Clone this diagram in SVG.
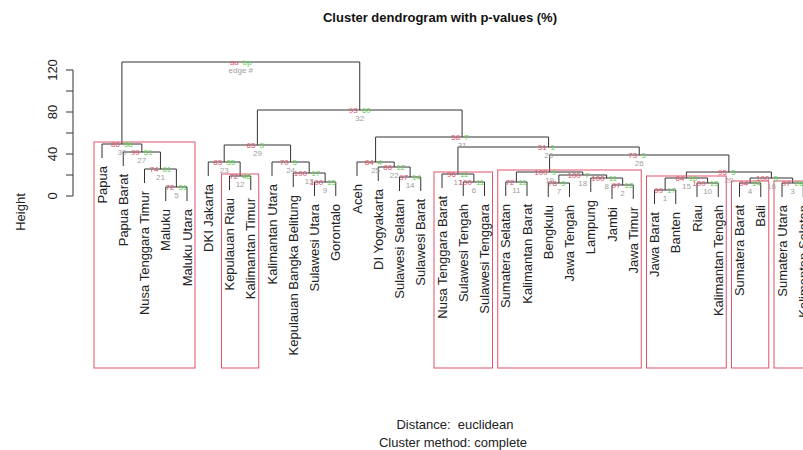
<svg xmlns="http://www.w3.org/2000/svg" width="803" height="450" viewBox="0 0 803 450">
<style>
text{font-family:"Liberation Sans",Arial,sans-serif}
.lab{font-size:13px;fill:#222;text-anchor:end}
.au{font-size:8px;fill:#DF536B;text-anchor:end}
.bp{font-size:8px;fill:#61D04F}
.ed{font-size:8px;fill:#9E9E9E;text-anchor:middle}
.ax{font-size:13px;fill:#222;text-anchor:middle}
.tree path{fill:none;stroke:#333;stroke-width:1}
.box{fill:none;stroke:#DF536B;stroke-width:1}
.pre{white-space:pre}
</style>
<rect width="803" height="450" fill="#fff"/>
<text x="440" y="22" font-size="13" font-weight="bold" text-anchor="middle" fill="#111">Cluster dendrogram with p-values (%)</text>
<g id="axis">
<path d="M73 196V70M73 196h-7M73 175h-7M73 154h-7M73 133h-7M73 112h-7M73 91h-7M73 70h-7" stroke="#333" fill="none"/>
<text class="ax" transform="translate(57,196) rotate(-90)">0</text>
<text class="ax" transform="translate(57,154) rotate(-90)">40</text>
<text class="ax" transform="translate(57,112) rotate(-90)">80</text>
<text class="ax" transform="translate(57,70) rotate(-90)">120</text>
<text class="ax" transform="translate(25,212) rotate(-90)">Height</text>
</g>
<g id="connectors" class="tree">
<path d="M102 158V144H141.84V152"/>
<path d="M123.25 166V152H160.44V169"/>
<path d="M144.5 183V169H176.38V187"/>
<path d="M165.75 201V187H187V201"/>
<path d="M208.25 176V162H240.13V176"/>
<path d="M229.5 190V176H250.75V190"/>
<path d="M272 176V162H309.19V173"/>
<path d="M293.25 187V173H325.13V182"/>
<path d="M314.5 196V182H335.75V196"/>
<path d="M224.19 162V145H290.59V162"/>
<path d="M357 176V162H394.19V167"/>
<path d="M378.25 181V167H410.13V177"/>
<path d="M399.5 191V177H420.75V191"/>
<path d="M442 188V174H473.88V182"/>
<path d="M463.25 196V182H484.5V196"/>
<path d="M505.75 196V182H527V196"/>
<path d="M548.25 197V183H569.5V197"/>
<path d="M612 199V185H633.25V199"/>
<path d="M590.75 192V178H622.63V185"/>
<path d="M558.88 183V175H606.69V178"/>
<path d="M516.38 182V172H582.78V175"/>
<path d="M654.5 204V190H675.75V204"/>
<path d="M697 197V183H718.25V197"/>
<path d="M665.13 190V178H707.63V183"/>
<path d="M739.5 197V183H760.75V197"/>
<path d="M782 197V183H803.25V197"/>
<path d="M750.13 183V178H792.63V183"/>
<path d="M686.38 178V172H771.38V178"/>
<path d="M549.58 172V155H728.88V172"/>
<path d="M457.94 174V147H639.23V155"/>
<path d="M375.59 162V137H548.58V147"/>
<path d="M257.39 145V110H462.09V137"/>
<path d="M121.92 144V62H359.74V110"/>
</g>
<g id="clusters">
<rect class="box" x="94" y="142" width="101" height="226"/>
<rect class="box" x="221.5" y="174" width="37.25" height="194"/>
<rect class="box" x="434" y="172" width="58.5" height="196"/>
<rect class="box" x="497.75" y="170" width="143.5" height="198"/>
<rect class="box" x="646.5" y="176" width="79.75" height="192"/>
<rect class="box" x="731.5" y="181" width="37.25" height="187"/>
<rect class="box" x="774" y="181" width="40" height="187"/>
</g>
<g id="leaves">
<g id="leaf-papua"><text class="lab" transform="translate(106.5,166) rotate(-90)">Papua</text></g>
<g id="leaf-papua-barat"><text class="lab" transform="translate(127.75,174) rotate(-90)">Papua Barat</text></g>
<g id="leaf-ntt"><text class="lab" transform="translate(149,191) rotate(-90)">Nusa Tenggara Timur</text></g>
<g id="leaf-maluku"><text class="lab" transform="translate(170.25,209) rotate(-90)">Maluku</text></g>
<g id="leaf-maluku-utara"><text class="lab" transform="translate(191.5,209) rotate(-90)">Maluku Utara</text></g>
<g id="leaf-dki"><text class="lab" transform="translate(212.75,184) rotate(-90)">DKI Jakarta</text></g>
<g id="leaf-kepri"><text class="lab" transform="translate(234,198) rotate(-90)">Kepulauan Riau</text></g>
<g id="leaf-kaltim"><text class="lab" transform="translate(255.25,198) rotate(-90)">Kalimantan Timur</text></g>
<g id="leaf-kaltara"><text class="lab" transform="translate(276.5,184) rotate(-90)">Kalimantan Utara</text></g>
<g id="leaf-babel"><text class="lab" transform="translate(297.75,195) rotate(-90)">Kepulauan Bangka Belitung</text></g>
<g id="leaf-sulut"><text class="lab" transform="translate(319,204) rotate(-90)">Sulawesi Utara</text></g>
<g id="leaf-gorontalo"><text class="lab" transform="translate(340.25,204) rotate(-90)">Gorontalo</text></g>
<g id="leaf-aceh"><text class="lab" transform="translate(361.5,184) rotate(-90)">Aceh</text></g>
<g id="leaf-diy"><text class="lab" transform="translate(382.75,189) rotate(-90)">DI Yogyakarta</text></g>
<g id="leaf-sulsel"><text class="lab" transform="translate(404,199) rotate(-90)">Sulawesi Selatan</text></g>
<g id="leaf-sulbar"><text class="lab" transform="translate(425.25,199) rotate(-90)">Sulawesi Barat</text></g>
<g id="leaf-ntb"><text class="lab" transform="translate(446.5,196) rotate(-90)">Nusa Tenggara Barat</text></g>
<g id="leaf-sulteng"><text class="lab" transform="translate(467.75,204) rotate(-90)">Sulawesi Tengah</text></g>
<g id="leaf-sultra"><text class="lab" transform="translate(489,204) rotate(-90)">Sulawesi Tenggara</text></g>
<g id="leaf-sumsel"><text class="lab" transform="translate(510.25,204) rotate(-90)">Sumatera Selatan</text></g>
<g id="leaf-kalbar"><text class="lab" transform="translate(531.5,204) rotate(-90)">Kalimantan Barat</text></g>
<g id="leaf-bengkulu"><text class="lab" transform="translate(552.75,205) rotate(-90)">Bengkulu</text></g>
<g id="leaf-jateng"><text class="lab" transform="translate(574,205) rotate(-90)">Jawa Tengah</text></g>
<g id="leaf-lampung"><text class="lab" transform="translate(595.25,200) rotate(-90)">Lampung</text></g>
<g id="leaf-jambi"><text class="lab" transform="translate(616.5,207) rotate(-90)">Jambi</text></g>
<g id="leaf-jatim"><text class="lab" transform="translate(637.75,207) rotate(-90)">Jawa Timur</text></g>
<g id="leaf-jabar"><text class="lab" transform="translate(659,212) rotate(-90)">Jawa Barat</text></g>
<g id="leaf-banten"><text class="lab" transform="translate(680.25,212) rotate(-90)">Banten</text></g>
<g id="leaf-riau"><text class="lab" transform="translate(701.5,205) rotate(-90)">Riau</text></g>
<g id="leaf-kalteng"><text class="lab" transform="translate(722.75,205) rotate(-90)">Kalimantan Tengah</text></g>
<g id="leaf-sumbar"><text class="lab" transform="translate(744,205) rotate(-90)">Sumatera Barat</text></g>
<g id="leaf-bali"><text class="lab" transform="translate(765.25,205) rotate(-90)">Bali</text></g>
<g id="leaf-sumut"><text class="lab" transform="translate(786.5,205) rotate(-90)">Sumatera Utara</text></g>
<g id="leaf-kalsel"><text class="lab" transform="translate(807.75,205) rotate(-90)">Kalimantan Selatan</text></g>
</g>
<g id="nodes">
<g id="n-root"><text class="au" x="238.8" y="65">au</text><text class="bp" x="242.8" y="65">bp</text><text class="ed" x="240.8" y="73">edge #</text></g>
<g id="n-B"><text class="au" x="357.7" y="113">93</text><text class="bp" x="361.7" y="113">60</text><text class="ed" x="359.7" y="121">32</text></g>
<g id="n-A"><text class="au" x="119.9" y="147">86</text><text class="bp" x="123.9" y="147">58</text><text class="ed" x="121.9" y="155">30</text></g>
<g id="n-A2"><text class="au" x="139.8" y="155">99</text><text class="bp" x="143.8" y="155">51</text><text class="ed" x="141.8" y="163">27</text></g>
<g id="n-NTT"><text class="au" x="158.4" y="172">74</text><text class="bp" x="162.4" y="172">61</text><text class="ed" x="160.4" y="180">21</text></g>
<g id="n-MM"><text class="au" x="174.4" y="190">72</text><text class="bp" x="178.4" y="190">51</text><text class="ed" x="176.4" y="198">5</text></g>
<g id="n-C"><text class="au" x="255.4" y="148">65</text><text class="bp" x="259.4" y="148">3</text><text class="ed" x="257.4" y="156">29</text></g>
<g id="n-C1"><text class="au" x="222.2" y="165">83</text><text class="bp" x="226.2" y="165">35</text><text class="ed" x="224.2" y="173">23</text></g>
<g id="n-KK"><text class="au" x="238.1" y="179">72</text><text class="bp" x="242.1" y="179">48</text><text class="ed" x="240.1" y="187">12</text></g>
<g id="n-C2"><text class="au" x="288.6" y="165">70</text><text class="bp" x="292.6" y="165">5</text><text class="ed" x="290.6" y="173">24</text></g>
<g id="n-BSG"><text class="au" x="307.2" y="176">100</text><text class="bp" x="311.2" y="176">17</text><text class="ed" x="309.2" y="184">13</text></g>
<g id="n-SG"><text class="au" x="323.1" y="185">100</text><text class="bp" x="327.1" y="185">15</text><text class="ed" x="325.1" y="193">9</text></g>
<g id="n-D"><text class="au" x="460.1" y="140">58</text><text class="bp" x="464.1" y="140">7</text><text class="ed" x="462.1" y="148">31</text></g>
<g id="n-D1"><text class="au" x="373.6" y="165">84</text><text class="bp" x="377.6" y="165">4</text><text class="ed" x="375.6" y="173">25</text></g>
<g id="n-D1b"><text class="au" x="392.2" y="170">86</text><text class="bp" x="396.2" y="170">12</text><text class="ed" x="394.2" y="178">22</text></g>
<g id="n-SS"><text class="au" x="408.1" y="180">97</text><text class="bp" x="412.1" y="180">14</text><text class="ed" x="410.1" y="188">14</text></g>
<g id="n-D2"><text class="au" x="546.6" y="150">31</text><text class="bp" x="550.6" y="150">1</text><text class="ed" x="548.6" y="158">28</text></g>
<g id="n-D2a"><text class="au" x="455.9" y="177">96</text><text class="bp" x="459.9" y="177">11</text><text class="ed" x="457.9" y="185">17</text></g>
<g id="n-TT"><text class="au" x="471.9" y="185">100</text><text class="bp" x="475.9" y="185">11</text><text class="ed" x="473.9" y="193">6</text></g>
<g id="n-D2b"><text class="au" x="637.2" y="158">73</text><text class="bp" x="641.2" y="158">3</text><text class="ed" x="639.2" y="166">26</text></g>
<g id="n-D2b1"><text class="au" x="547.6" y="175">100</text><text class="bp" x="551.6" y="175">9</text><text class="ed" x="549.6" y="183">19</text></g>
<g id="n-SK"><text class="au" x="514.4" y="185">72</text><text class="bp" x="518.4" y="185">11</text><text class="ed" x="516.4" y="193">11</text></g>
<g id="n-BJLJJ"><text class="au" x="580.8" y="178">100</text><text class="bp" x="584.8" y="178">7</text><text class="ed" x="582.8" y="186">18</text></g>
<g id="n-BJ"><text class="au" x="556.9" y="186">78</text><text class="bp" x="560.9" y="186">9</text><text class="ed" x="558.9" y="194">7</text></g>
<g id="n-LJJ"><text class="au" x="604.7" y="181">100</text><text class="bp" x="608.7" y="181">11</text><text class="ed" x="606.7" y="189">8</text></g>
<g id="n-JJ"><text class="au" x="620.6" y="188">97</text><text class="bp" x="624.6" y="188">12</text><text class="ed" x="622.6" y="196">2</text></g>
<g id="n-D2b2"><text class="au" x="726.9" y="175">95</text><text class="bp" x="730.9" y="175">5</text><text class="ed" x="728.9" y="183">20</text></g>
<g id="n-LG"><text class="au" x="684.4" y="181">84</text><text class="bp" x="688.4" y="181">10</text><text class="ed" x="686.4" y="189">15</text></g>
<g id="n-JB"><text class="au" x="663.1" y="193">99</text><text class="bp" x="667.1" y="193">17</text><text class="ed" x="665.1" y="201">1</text></g>
<g id="n-RK"><text class="au" x="705.6" y="186">100</text><text class="bp" x="709.6" y="186">15</text><text class="ed" x="707.6" y="194">10</text></g>
<g id="n-RG"><text class="au" x="769.4" y="181">100</text><text class="bp" x="773.4" y="181">5</text><text class="ed" x="771.4" y="189">16</text></g>
<g id="n-SB"><text class="au" x="748.1" y="186">94</text><text class="bp" x="752.1" y="186">14</text><text class="ed" x="750.1" y="194">4</text></g>
<g id="n-SK2"><text class="au" x="790.6" y="186">97</text><text class="bp" x="794.6" y="186">26</text><text class="ed" x="792.6" y="194">3</text></g>
</g>
<text class="ax pre" x="455" y="429">Distance:  euclidean</text>
<text class="ax" x="453" y="447">Cluster method: complete</text>
</svg>
